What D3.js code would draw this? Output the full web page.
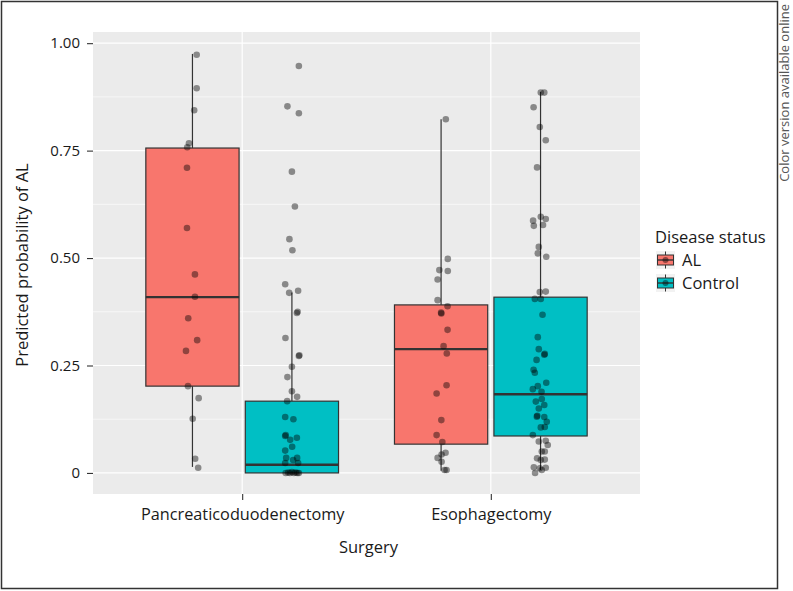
<!DOCTYPE html>
<html><head><meta charset="utf-8">
<script src="https://cdnjs.cloudflare.com/ajax/libs/d3/7.8.5/d3.min.js"></script>
<style>body{margin:0;background:#fff;} svg{display:block;font-family:"Open Sans","Noto Sans",sans-serif;}</style>
</head><body>
<svg id="chart" width="793" height="591"></svg>
<script>
const surgeries = ["Pancreaticoduodenectomy", "Esophagectomy"];
const statuses = ["AL", "Control"];
const statusColors = ["#F8766D", "#00BFC4"];
const yTicks = [0, 0.25, 0.5, 0.75, 1.0];
const yTickLabels = ["0", "0.25", "0.50", "0.75", "1.00"];
const yMinor = [0.125, 0.375, 0.625, 0.875];

// box stats: [surgeryIndex, statusIndex, lowWhisker, q1, median, q3, highWhisker]
const boxStats = [
  [0, 0, 0.014, 0.202, 0.409, 0.756, 0.975],
  [0, 1, 0.000, 0.000, 0.019, 0.167, 0.420],
  [1, 0, 0.005, 0.067, 0.288, 0.391, 0.823],
  [1, 1, 0.007, 0.086, 0.183, 0.409, 0.887]
];

// jittered points: value, jitter offset (category units)
const pdAL = [[0.973,0.017],[0.895,0.017],[0.844,0.007],[0.767,-0.014],[0.758,-0.021],[0.710,-0.022],[0.570,-0.022],[0.462,0.010],[0.410,0.010],[0.360,-0.017],[0.309,0.019],[0.284,-0.026],[0.202,-0.018],[0.174,0.025],[0.126,0.001],[0.033,0.011],[0.012,0.023]];
const pdControl = [[0.947,0.028],[0.853,-0.018],[0.837,0.028],[0.701,0.000],[0.620,0.012],[0.544,-0.010],[0.518,0.002],[0.439,-0.027],[0.419,-0.011],[0.424,0.025],[0.372,0.020],[0.375,0.023],[0.314,-0.026],[0.272,0.028],[0.274,0.030],[0.247,0.000],[0.223,-0.018],[0.190,0.000],[0.177,0.021],[0.167,-0.019],[0.130,-0.027],[0.125,0.006],[0.086,-0.027],[0.088,-0.025],[0.077,-0.007],[0.082,0.020],[0.061,0.001],[0.052,-0.027],[0.030,0.005],[0.035,-0.023],[0.035,0.021],[0.023,0.025],[0.023,-0.027],[0.000,-0.025],[0.001,-0.015],[0.000,-0.008],[0.002,0.000],[0.000,0.008],[0.001,0.015],[0.000,0.022],[0.000,0.028]];
const esAL = [[0.823,0.019],[0.498,0.027],[0.472,-0.007],[0.470,0.027],[0.450,-0.014],[0.402,-0.014],[0.388,0.026],[0.371,0.001],[0.373,0.000],[0.333,0.026],[0.295,0.010],[0.278,0.023],[0.204,0.022],[0.185,-0.018],[0.123,0.001],[0.088,-0.018],[0.072,0.005],[0.047,0.018],[0.043,0.002],[0.035,-0.014],[0.026,0.002],[0.007,0.014],[0.007,0.022]];
const esControl = [[0.885,0.001],[0.885,0.015],[0.851,-0.028],[0.805,-0.003],[0.774,0.021],[0.711,-0.014],[0.596,0.001],[0.591,0.021],[0.587,-0.030],[0.575,-0.027],[0.577,0.010],[0.526,-0.007],[0.511,-0.011],[0.503,0.023],[0.421,-0.003],[0.422,0.021],[0.405,-0.023],[0.405,0.001],[0.368,0.008],[0.316,-0.011],[0.288,-0.007],[0.275,0.015],[0.277,0.017],[0.263,-0.016],[0.240,-0.028],[0.233,-0.023],[0.210,0.023],[0.202,-0.011],[0.195,-0.031],[0.189,0.004],[0.166,-0.019],[0.172,0.005],[0.158,0.015],[0.150,-0.007],[0.131,-0.015],[0.133,-0.013],[0.130,0.015],[0.119,0.025],[0.106,0.001],[0.107,0.017],[0.088,-0.031],[0.073,-0.007],[0.075,0.021],[0.065,0.029],[0.050,0.005],[0.050,0.017],[0.034,-0.014],[0.030,0.001],[0.031,0.017],[0.013,-0.027],[0.011,-0.003],[0.012,0.021],[0.000,-0.022],[0.007,0.005]];
const pointGroups = [[0,0,pdAL],[0,1,pdControl],[1,0,esAL],[1,1,esControl]];

const svg = d3.select("#chart");
const panel = {left: 93, right: 640, top: 32, bottom: 494};

const x = d3.scaleLinear().domain([0.4, 2.6]).range([panel.left, panel.right]);
const y = d3.scaleLinear().domain([-0.049, 1.026]).range([panel.bottom, panel.top]);
const dodge = [-0.2, 0.2];
const boxW = 0.375;
const font = "'Open Sans','Noto Sans',sans-serif";
const ink = "#1a1a1a";

// outer frame
svg.append("rect").attr("x", 1.5).attr("y", 1.5).attr("width", 776).attr("height", 587)
  .attr("fill", "none").attr("stroke", "#333").attr("stroke-width", 1.5);

svg.append("text").attr("transform", "translate(789,4) rotate(-90)")
  .attr("text-anchor", "end").attr("font-size", 13).attr("fill", "#555")
  .text("Color version available online");

// panel
svg.append("rect").attr("x", panel.left).attr("y", panel.top)
  .attr("width", panel.right - panel.left).attr("height", panel.bottom - panel.top).attr("fill", "#EBEBEB");
const g = svg.append("g");
g.selectAll(".minor").data(yMinor).join("line")
  .attr("x1", panel.left).attr("x2", panel.right).attr("y1", d => y(d)).attr("y2", d => y(d))
  .attr("stroke", "#fff").attr("stroke-width", 0.6);
g.selectAll(".major").data(yTicks).join("line")
  .attr("x1", panel.left).attr("x2", panel.right).attr("y1", d => y(d)).attr("y2", d => y(d))
  .attr("stroke", "#fff").attr("stroke-width", 1.2);
g.selectAll(".vmajor").data(surgeries).join("line")
  .attr("x1", (d, i) => x(i + 1)).attr("x2", (d, i) => x(i + 1)).attr("y1", panel.top).attr("y2", panel.bottom)
  .attr("stroke", "#fff").attr("stroke-width", 1.2);

// boxes
boxStats.forEach(([si, gi, lo, q1, med, q3, hi]) => {
  const cx = x(si + 1 + dodge[gi]);
  const bx0 = x(si + 1 + dodge[gi] - boxW / 2), bx1 = x(si + 1 + dodge[gi] + boxW / 2);
  g.append("line").attr("x1", cx).attr("x2", cx).attr("y1", y(q3)).attr("y2", y(hi)).attr("stroke", "#333").attr("stroke-width", 1.2);
  g.append("line").attr("x1", cx).attr("x2", cx).attr("y1", y(q1)).attr("y2", y(lo)).attr("stroke", "#333").attr("stroke-width", 1.2);
  g.append("rect").attr("x", bx0).attr("y", y(q3)).attr("width", bx1 - bx0).attr("height", Math.max(0.5, y(q1) - y(q3)))
    .attr("fill", statusColors[gi]).attr("stroke", "#333").attr("stroke-width", 1.2);
  g.append("line").attr("x1", bx0).attr("x2", bx1).attr("y1", y(med)).attr("y2", y(med)).attr("stroke", "#333").attr("stroke-width", 2.4);
});

// points
pointGroups.forEach(([si, gi, pts]) => {
  g.selectAll(null).data(pts).join("circle")
    .attr("cx", d => x(si + 1 + dodge[gi] + d[1]))
    .attr("cy", d => y(d[0]))
    .attr("r", 3.3).attr("fill", "#000").attr("fill-opacity", 0.42);
});

// y axis
const yAxis = d3.axisLeft(y).tickValues(yTicks).tickFormat((d, i) => yTickLabels[i]).tickSize(6).tickPadding(7);
const ya = svg.append("g").attr("transform", `translate(${panel.left},0)`).call(yAxis);
ya.select(".domain").remove();
ya.selectAll("line").attr("stroke", "#333").attr("stroke-width", 1.1);
ya.selectAll("text").attr("font-size", 15).attr("fill", ink).attr("font-family", font);

// x axis
const xAxis = d3.axisBottom(x).tickValues([1, 2]).tickFormat(d => surgeries[d - 1]).tickSize(6).tickPadding(8);
const xa = svg.append("g").attr("transform", `translate(0,${panel.bottom})`).call(xAxis);
xa.select(".domain").remove();
xa.selectAll("line").attr("stroke", "#333").attr("stroke-width", 1.1);
xa.selectAll("text").attr("font-size", 16.3).attr("fill", ink).attr("font-family", font);

svg.append("text").attr("x", (panel.left + panel.right) / 2 + 2).attr("y", 553).attr("text-anchor", "middle")
  .attr("font-size", 16.5).attr("fill", ink).text("Surgery");
svg.append("text").attr("transform", `translate(28,${(panel.top + panel.bottom) / 2 + 2}) rotate(-90)`).attr("text-anchor", "middle")
  .attr("font-size", 16.5).attr("fill", ink).text("Predicted probability of AL");

// legend
const lg = svg.append("g").attr("transform", "translate(655,0)");
lg.append("text").attr("x", 0).attr("y", 243).attr("font-size", 16.5).attr("fill", ink).text("Disease status");
statuses.forEach((s, i) => {
  const ky = 251 + i * 23;
  const kg = lg.append("g").attr("transform", `translate(1,${ky})`);
  kg.append("rect").attr("width", 19).attr("height", 18).attr("fill", "#f2f2f2");
  kg.append("line").attr("x1", 9.5).attr("x2", 9.5).attr("y1", 0.5).attr("y2", 17.5).attr("stroke", "#333").attr("stroke-width", 1);
  kg.append("rect").attr("x", 1.5).attr("y", 4).attr("width", 16).attr("height", 10).attr("fill", statusColors[i]).attr("stroke", "#333").attr("stroke-width", 1);
  kg.append("line").attr("x1", 1.5).attr("x2", 17.5).attr("y1", 9).attr("y2", 9).attr("stroke", "#333").attr("stroke-width", 1.4);
  kg.append("circle").attr("cx", 9.5).attr("cy", 9).attr("r", 3).attr("fill", "#000").attr("fill-opacity", 0.42);
  lg.append("text").attr("x", 27).attr("y", ky + 15).attr("font-size", 16.5).attr("fill", ink).text(s);
});
</script>
</body></html>
